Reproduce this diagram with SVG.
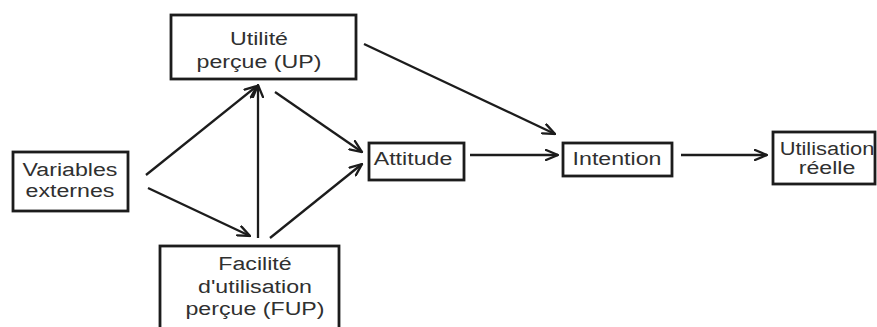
<svg xmlns="http://www.w3.org/2000/svg" width="877" height="327" viewBox="0 0 877 327">
  <defs>
    <marker id="arrow" viewBox="0 0 14 12" refX="13" refY="6" markerWidth="14" markerHeight="12" markerUnits="userSpaceOnUse" orient="auto">
      <path d="M1,1 L13,6 L1,11" fill="none" stroke="#1c1c1c" stroke-width="2.3" stroke-linecap="round" stroke-linejoin="miter"/>
    </marker>
    <style>
      .box { fill: #ffffff; stroke: #1c1c1c; stroke-width: 2.8; }
      .lbl { font-family: "Liberation Sans", Arial, sans-serif; font-size: 19px; fill: #303030; text-anchor: middle; }
      .edge { fill: none; stroke: #1c1c1c; stroke-width: 2.3; marker-end: url(#arrow); }
    </style>
  </defs>
  <rect width="877" height="327" fill="#ffffff"/>

  <g id="connectors">
    <line class="edge" x1="146" y1="175" x2="257" y2="86"/>
    <line class="edge" x1="148" y1="188" x2="250" y2="236"/>
    <line class="edge" x1="258" y1="238" x2="258" y2="85"/>
    <line class="edge" x1="275" y1="92" x2="362" y2="152"/>
    <line class="edge" x1="270" y1="238" x2="362" y2="164"/>
    <line class="edge" x1="364" y1="44" x2="555" y2="134"/>
    <line class="edge" x1="470" y1="155" x2="558" y2="155"/>
    <line class="edge" x1="681" y1="155" x2="767" y2="155"/>
  </g>

  <g id="utilite-percue">
    <rect class="box" x="171" y="15" width="185" height="64"/>
    <text class="lbl" transform="translate(259,45) scale(1.22,1)">Utilité</text>
    <text class="lbl" transform="translate(259,68) scale(1.22,1)">perçue (UP)</text>
  </g>

  <g id="variables-externes">
    <rect class="box" x="13" y="152" width="115" height="59"/>
    <text class="lbl" transform="translate(70,176) scale(1.22,1)">Variables</text>
    <text class="lbl" transform="translate(70,197) scale(1.22,1)">externes</text>
  </g>

  <g id="facilite-utilisation">
    <rect class="box" x="160" y="246" width="179" height="90"/>
    <text class="lbl" transform="translate(255,270) scale(1.22,1)">Facilité</text>
    <text class="lbl" transform="translate(255,293) scale(1.22,1)">d'utilisation</text>
    <text class="lbl" transform="translate(255,315) scale(1.22,1)">perçue (FUP)</text>
  </g>

  <g id="attitude">
    <rect class="box" x="369" y="143" width="95" height="37"/>
    <text class="lbl" transform="translate(413,165) scale(1.22,1)">Attitude</text>
  </g>

  <g id="intention">
    <rect class="box" x="563" y="143" width="109" height="33"/>
    <text class="lbl" transform="translate(617,165) scale(1.22,1)">Intention</text>
  </g>

  <g id="utilisation-reelle">
    <rect class="box" x="773" y="132" width="102" height="52"/>
    <text class="lbl" transform="translate(827,155) scale(1.15,1)">Utilisation</text>
    <text class="lbl" transform="translate(827,174) scale(1.22,1)">réelle</text>
  </g>
</svg>
